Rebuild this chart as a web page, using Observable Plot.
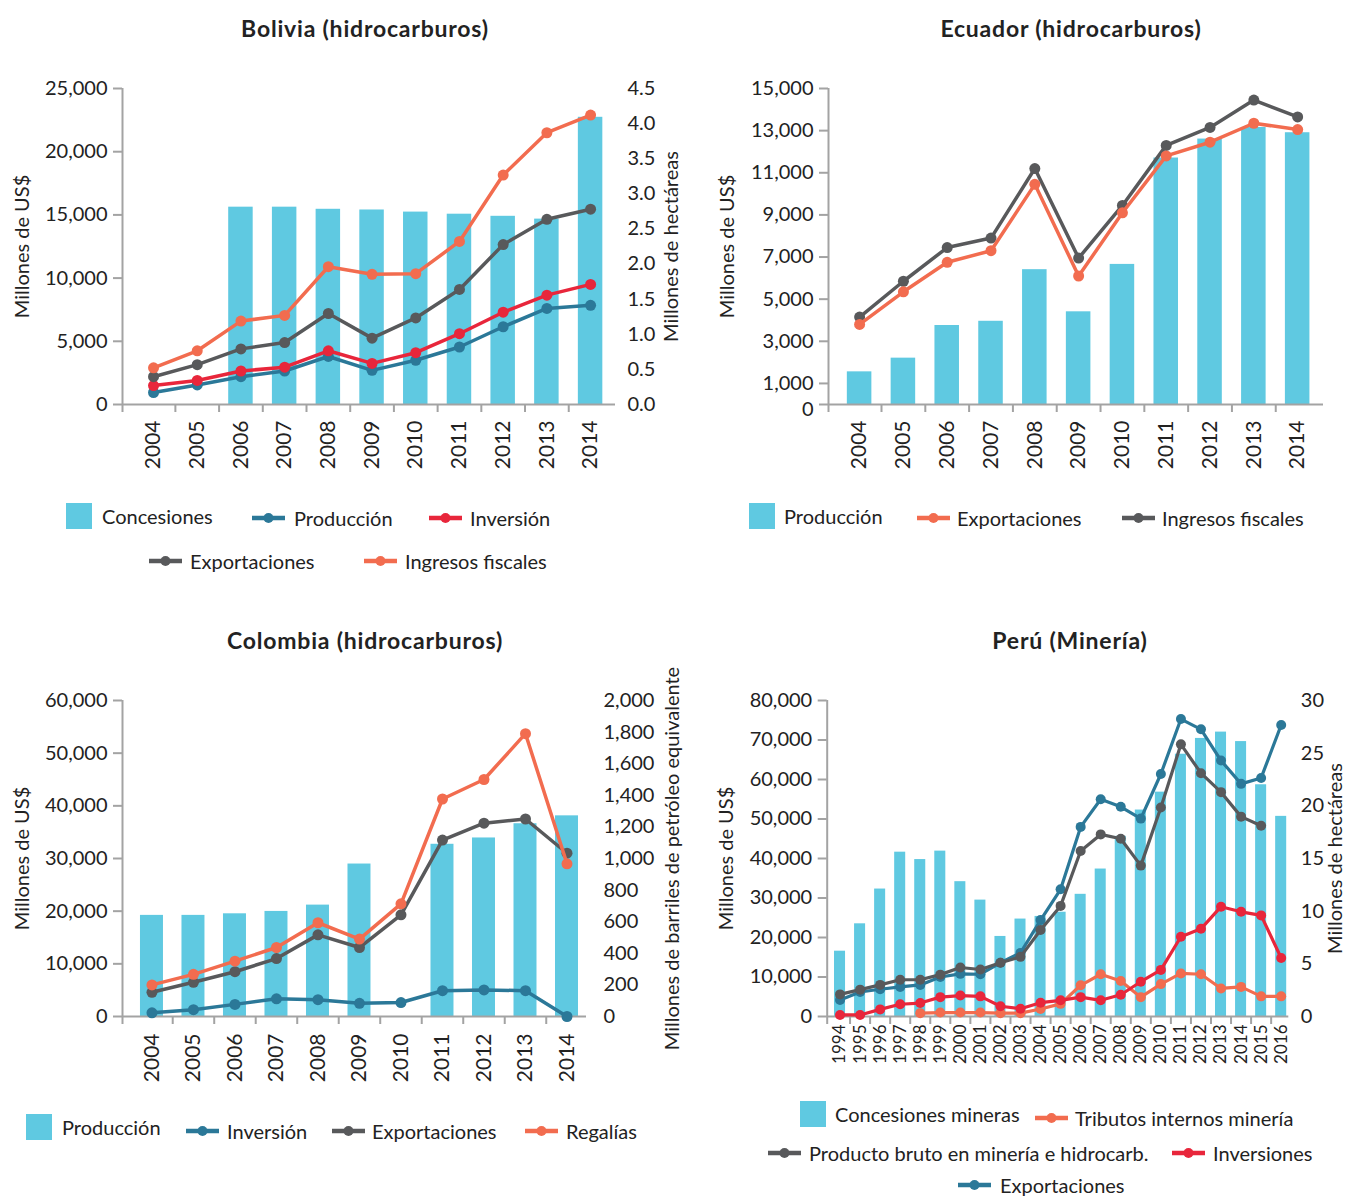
<!DOCTYPE html>
<html><head><meta charset="utf-8">
<script src="https://cdn.jsdelivr.net/npm/d3@7"></script>
<script src="https://cdn.jsdelivr.net/npm/@observablehq/plot@0.6"></script>
<style>
body{margin:0;background:#fff;}
#root{position:relative;width:1347px;height:1197px;overflow:hidden;font-family:Lato,"Open Sans",sans-serif;color:#222;}
.title{position:absolute;font-weight:700;font-size:23px;letter-spacing:0.8px;transform:translate(-50%,-50%);white-space:nowrap;color:#222;}
.legt{position:absolute;font-size:20px;white-space:nowrap;transform:translateY(-50%);color:#222;line-height:1;}
.legi{position:absolute;}
.panel{position:absolute;}
</style></head><body><div id="root"></div>
<script>
// ---------------- DATA ----------------
const yearsA = [2004, 2005, 2006, 2007, 2008, 2009, 2010, 2011, 2012, 2013, 2014];
const yearsPeru = [1994, 1995, 1996, 1997, 1998, 1999, 2000, 2001, 2002, 2003, 2004, 2005, 2006, 2007, 2008, 2009, 2010, 2011, 2012, 2013, 2014, 2015, 2016];

// Bolivia (hidrocarburos)
const bolConcesiones = [null, null, 2.81, 2.81, 2.78, 2.77, 2.74, 2.71, 2.68, 2.64, 4.09]; // millones de hectáreas
const bolProduccion = [950, 1550, 2200, 2650, 3800, 2700, 3500, 4550, 6150, 7600, 7850];
const bolInversion = [1500, 1900, 2650, 2950, 4250, 3250, 4100, 5600, 7300, 8650, 9500];
const bolExportaciones = [2200, 3150, 4400, 4900, 7200, 5250, 6850, 9100, 12650, 14650, 15450];
const bolIngresos = [2900, 4250, 6600, 7050, 10900, 10300, 10350, 12900, 18150, 21500, 22900];
const bolLeftTicks = [0, 5000, 10000, 15000, 20000, 25000];
const bolRightTicks = [0, 0.5, 1, 1.5, 2, 2.5, 3, 3.5, 4, 4.5];

// Ecuador (hidrocarburos)
const ecuProduccion = [1550, 2200, 3750, 3950, 6400, 4400, 6650, 11700, 12600, 13150, 12900];
const ecuExportaciones = [3800, 5350, 6750, 7300, 10450, 6100, 9100, 11800, 12450, 13350, 13050];
const ecuIngresos = [4150, 5850, 7450, 7900, 11200, 6950, 9450, 12300, 13150, 14450, 13650];
const ecuLeftTicks = [0, 1000, 3000, 5000, 7000, 9000, 11000, 13000, 15000];

// Colombia (hidrocarburos)
const colProduccion = [640, 640, 650, 665, 705, 965, null, 1090, 1130, 1220, 1270]; // millones de barriles
const colInversion = [700, 1300, 2300, 3350, 3200, 2500, 2650, 4900, 5050, 4900, 0];
const colExportaciones = [4600, 6500, 8500, 11000, 15500, 13100, 19300, 33500, 36700, 37500, 31000];
const colRegalias = [6000, 8000, 10500, 13100, 17800, 14700, 21400, 41300, 45000, 53700, 29000];
const colLeftTicks = [0, 10000, 20000, 30000, 40000, 50000, 60000];
const colRightTicks = [0, 200, 400, 600, 800, 1000, 1200, 1400, 1600, 1800, 2000];

// Perú (Minería)
const peruConcesiones = [6.2, 8.8, 12.1, 15.6, 14.9, 15.7, 12.8, 11.05, 7.6, 9.25, 9.5, 9.9, 11.6, 14.0, 17.1, 19.6, 21.3, 24.9, 26.4, 27.0, 26.1, 22.0, 19.0]; // millones de hectáreas
const peruTributos = [null, null, null, null, 850, 1000, 1000, 1000, 850, 850, 1900, 3200, 7900, 10700, 9000, 4900, 8200, 10900, 10700, 7100, 7500, 5100, 5100];
const peruProducto = [5600, 6800, 8000, 9300, 9300, 10600, 12400, 11900, 13600, 15100, 21900, 28000, 41900, 46100, 45000, 38200, 52900, 68900, 61600, 56800, 50600, 48300, null];
const peruInversiones = [400, 400, 1800, 3100, 3400, 4900, 5300, 5100, 2600, 1950, 3500, 4100, 4900, 4100, 5500, 8800, 11800, 20200, 22200, 27800, 26500, 25600, 14800];
const peruExportaciones = [4200, 6200, 6900, 7500, 8000, 10000, 10800, 10700, 13600, 16100, 24400, 32200, 48000, 55000, 53100, 50100, 61400, 75300, 72700, 64800, 58900, 60400, 73800];
const peruLeftTicks = [0, 10000, 20000, 30000, 40000, 50000, 60000, 70000, 80000];
const peruRightTicks = [0, 5, 10, 15, 20, 25, 30];

// ---------------- STYLE ----------------
const CYAN = "#5fc9e1", TEAL = "#2b7898", RED = "#e8263b", GRAY = "#58595b", ORANGE = "#f26c4f";
const AX = "#a3a3a3";
const root = document.getElementById("root");
const fmtComma = d3.format(",");

function series(xs, vs, k = 1) {
  return xs.map((x, i) => ({x, y: vs[i] == null ? NaN : vs[i] * k})).filter(d => !isNaN(d.y));
}

function panel(o) {
  const xs = o.years;
  const marks = [];
  if (o.bars) {
    marks.push(Plot.rect(series(xs, o.bars.values, o.bars.k || 1), {
      x1: d => d.x - o.half, x2: d => d.x + o.half, y1: 0, y2: "y", fill: CYAN
    }));
  }
  marks.push(Plot.ruleY([0], {stroke: AX, strokeWidth: 2}));
  marks.push(Plot.ruleX([o.xDomain[0]], {stroke: AX, strokeWidth: 2, insetBottom: -8}));
  marks.push(Plot.axisX(xs.slice(0, -1).map(y => y + 0.5), {
    tickSize: 8, stroke: AX, strokeWidth: 2, tickFormat: () => "", label: null
  }));
  marks.push(Plot.axisX(xs, {
    tickSize: 0, tickPadding: o.xPad, tickRotate: -90, tickFormat: d => String(d),
    fontSize: o.xFont, label: null, fill: "#222"
  }));
  marks.push(Plot.axisY(o.leftTicks, {
    anchor: "left", tickSize: 9, tickPadding: 6, stroke: AX, strokeWidth: 2,
    tickFormat: d => (o.zeroDy && d === 0) ? "" : fmtComma(d), fontSize: 20, fill: "#222",
    label: o.leftLabel, labelAnchor: "center", labelArrow: "none", labelOffset: o.leftLabelOffset
  }));
  if (o.zeroDy) {
    marks.push(Plot.axisY([0], {
      anchor: "left", tickSize: 0, tickPadding: 15, dy: o.zeroDy,
      tickFormat: d => fmtComma(d), fontSize: 20, fill: "#222", label: null
    }));
  }
  if (o.right) {
    const r = o.right;
    marks.push(Plot.axisY(r.ticks.map(v => v * r.k), {
      anchor: "right", tickSize: 0, tickPadding: r.pad, tickFormat: d => r.fmt(d / r.k),
      fontSize: 20, fill: "#222", textAnchor: "start",
      label: r.label, labelAnchor: "center", labelArrow: "none", labelOffset: r.labelOffset
    }));
  }
  for (const s of o.lines) {
    const data = series(xs, s.values);
    marks.push(Plot.line(data, {x: "x", y: "y", stroke: s.color, strokeWidth: o.sw}));
    marks.push(Plot.dot(data, {x: "x", y: "y", fill: s.color, r: o.r}));
  }
  const svg = Plot.plot({
    width: o.width, height: o.height,
    marginLeft: o.ml, marginRight: o.mr, marginTop: o.mt, marginBottom: o.mb,
    x: {type: "linear", domain: o.xDomain},
    y: {domain: [0, o.yMax]},
    style: {fontFamily: "Lato, 'Open Sans', sans-serif", fontSize: "20px", color: "#222", background: "transparent", overflow: "visible"},
    marks
  });
  svg.classList.add("panel");
  svg.style.left = o.left + "px";
  svg.style.top = o.top + "px";
  root.appendChild(svg);

  const t = document.createElement("div");
  t.className = "title";
  t.textContent = o.title;
  t.style.left = o.titleX + "px";
  t.style.top = o.titleY + "px";
  root.appendChild(t);

  for (const it of o.legend) addLegend(it);
}

function addLegend({x, y, type, color, text, tx}) {
  const ns = "http://www.w3.org/2000/svg";
  const s = document.createElementNS(ns, "svg");
  s.classList.add("legi");
  if (type === "square") {
    s.setAttribute("width", 26); s.setAttribute("height", 26);
    s.style.left = x + "px"; s.style.top = (y - 13) + "px";
    s.innerHTML = `<rect width="26" height="26" fill="${color}"/>`;
  } else {
    s.setAttribute("width", 33); s.setAttribute("height", 12);
    s.style.left = x + "px"; s.style.top = (y - 6) + "px";
    s.innerHTML = `<line x1="0" x2="33" y1="6" y2="6" stroke="${color}" stroke-width="4.5"/><circle cx="16.5" cy="6" r="5" fill="${color}"/>`;
  }
  root.appendChild(s);
  const d = document.createElement("div");
  d.className = "legt";
  d.textContent = text;
  d.style.left = tx + "px";
  d.style.top = y + "px";
  root.appendChild(d);
}

// Bolivia
const kBol = 25000 / 4.5;
panel({
  title: "Bolivia (hidrocarburos)", titleX: 365, titleY: 28,
  left: 0, top: 60, width: 680, height: 420, ml: 122, mr: 65, mt: 28, mb: 76,
  years: yearsA, xDomain: [2003.29, 2014.57], half: 0.28, yMax: 25000,
  leftTicks: bolLeftTicks, leftLabel: "Millones de US$", leftLabelOffset: 108,
  right: {ticks: bolRightTicks, k: kBol, fmt: v => v.toFixed(1), pad: 12, label: "Millones de hectáreas", labelOffset: 62},
  bars: {values: bolConcesiones, k: kBol},
  lines: [
    {values: bolProduccion, color: TEAL},
    {values: bolInversion, color: RED},
    {values: bolExportaciones, color: GRAY},
    {values: bolIngresos, color: ORANGE}
  ],
  sw: 3.5, r: 5.5, xFont: 21, xPad: 16,
  legend: [
    {x: 66, y: 516, type: "square", color: CYAN, text: "Concesiones", tx: 102},
    {x: 252, y: 518, type: "line", color: TEAL, text: "Producción", tx: 294},
    {x: 429, y: 518, type: "line", color: RED, text: "Inversión", tx: 470},
    {x: 149, y: 561, type: "line", color: GRAY, text: "Exportaciones", tx: 190},
    {x: 364, y: 561, type: "line", color: ORANGE, text: "Ingresos fiscales", tx: 405}
  ]
});

// Ecuador
panel({
  title: "Ecuador (hidrocarburos)", titleX: 1071, titleY: 28,
  left: 680, top: 60, width: 667, height: 420, ml: 148, mr: 24, mt: 28, mb: 76,
  years: yearsA, xDomain: [2003.29, 2014.59], half: 0.28, yMax: 15000,
  leftTicks: ecuLeftTicks, leftLabel: "Millones de US$", leftLabelOffset: 109, zeroDy: 5,
  bars: {values: ecuProduccion},
  lines: [
    {values: ecuIngresos, color: GRAY},
    {values: ecuExportaciones, color: ORANGE}
  ],
  sw: 3.5, r: 5.5, xFont: 21, xPad: 16,
  legend: [
    {x: 749, y: 516, type: "square", color: CYAN, text: "Producción", tx: 784},
    {x: 917, y: 518, type: "line", color: ORANGE, text: "Exportaciones", tx: 957},
    {x: 1122, y: 518, type: "line", color: GRAY, text: "Ingresos fiscales", tx: 1162}
  ]
});

// Colombia
const kCol = 60000 / 2000;
panel({
  title: "Colombia (hidrocarburos)", titleX: 365, titleY: 640,
  left: 0, top: 672, width: 680, height: 420, ml: 122, mr: 94, mt: 28, mb: 76,
  years: yearsA, xDomain: [2003.29, 2014.47], half: 0.277, yMax: 60000,
  leftTicks: colLeftTicks, leftLabel: "Millones de US$", leftLabelOffset: 108,
  right: {ticks: colRightTicks, k: kCol, fmt: v => fmtComma(Math.round(v)), pad: 17, label: "Millones de barriles de petróleo equivalente", labelOffset: 92},
  bars: {values: colProduccion, k: kCol},
  lines: [
    {values: colInversion, color: TEAL},
    {values: colExportaciones, color: GRAY},
    {values: colRegalias, color: ORANGE}
  ],
  sw: 3.5, r: 5.5, xFont: 21, xPad: 17,
  legend: [
    {x: 26, y: 1127, type: "square", color: CYAN, text: "Producción", tx: 62},
    {x: 186, y: 1131, type: "line", color: TEAL, text: "Inversión", tx: 227},
    {x: 332, y: 1131, type: "line", color: GRAY, text: "Exportaciones", tx: 372},
    {x: 525, y: 1131, type: "line", color: ORANGE, text: "Regalías", tx: 566}
  ]
});

// Perú
const kPeru = 80000 / 30;
panel({
  title: "Perú (Minería)", titleX: 1070, titleY: 640,
  left: 680, top: 672, width: 667, height: 420, ml: 146.7, mr: 58.7, mt: 28, mb: 76,
  years: yearsPeru, xDomain: [1993.36, 2016.38], half: 0.275, yMax: 80000,
  leftTicks: peruLeftTicks, leftLabel: "Millones de US$", leftLabelOffset: 108,
  right: {ticks: peruRightTicks, k: kPeru, fmt: v => String(Math.round(v)), pad: 12, label: "Millones de hectáreas", labelOffset: 53},
  bars: {values: peruConcesiones, k: kPeru},
  lines: [
    {values: peruTributos, color: ORANGE},
    {values: peruInversiones, color: RED},
    {values: peruExportaciones, color: TEAL},
    {values: peruProducto, color: GRAY}
  ],
  sw: 3.2, r: 5, xFont: 17, xPad: 8,
  legend: [
    {x: 800, y: 1114, type: "square", color: CYAN, text: "Concesiones mineras", tx: 835},
    {x: 1035, y: 1118, type: "line", color: ORANGE, text: "Tributos internos minería", tx: 1075},
    {x: 768, y: 1153, type: "line", color: GRAY, text: "Producto bruto en minería e hidrocarb.", tx: 809},
    {x: 1172, y: 1153, type: "line", color: RED, text: "Inversiones", tx: 1213},
    {x: 958, y: 1185, type: "line", color: TEAL, text: "Exportaciones", tx: 1000}
  ]
});
</script></body></html>
